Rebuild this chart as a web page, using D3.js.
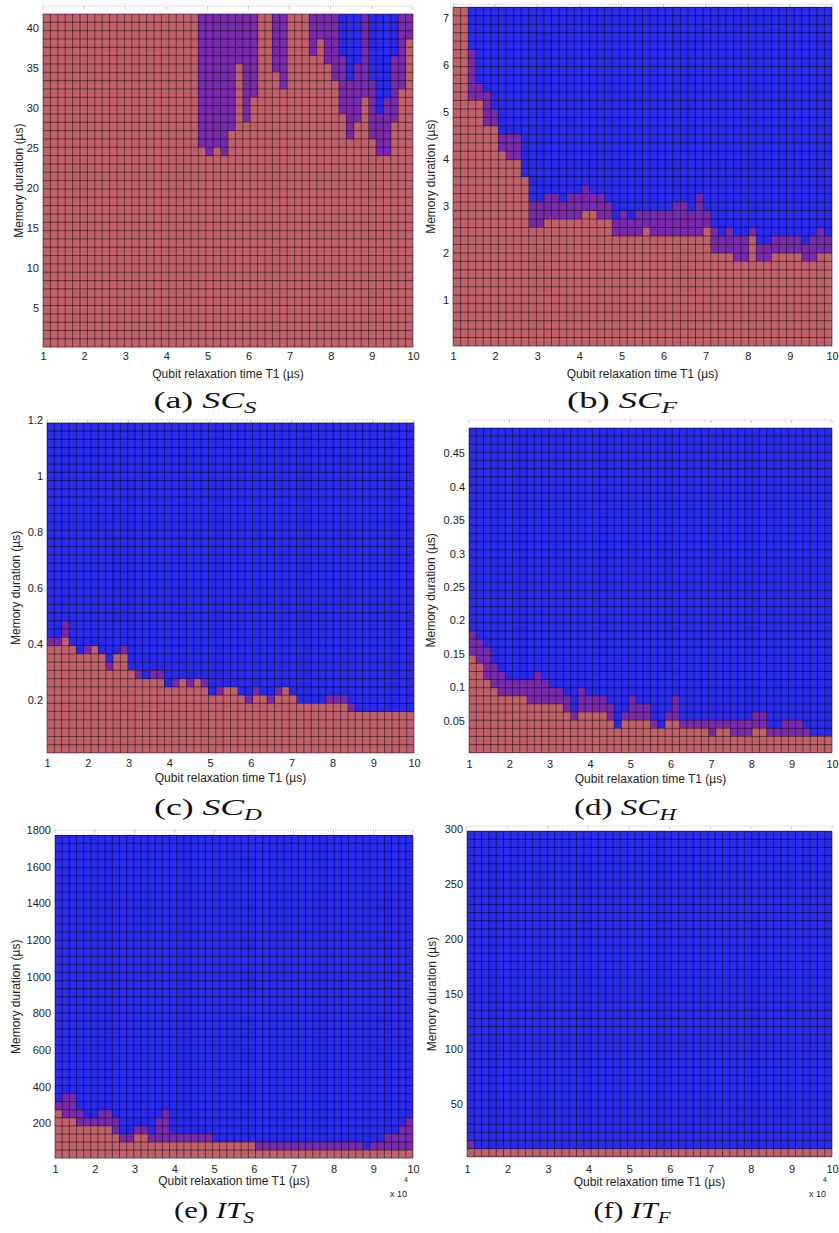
<!DOCTYPE html>
<html>
<head>
<meta charset="utf-8">
<script src="https://cdn.jsdelivr.net/npm/d3@7"></script>
<style>
  body { margin: 0; background: #fff; }
  text { font-family: "Liberation Sans", Arial, sans-serif; fill: #222; }
  text.cap { font-family: "Liberation Serif", "DejaVu Serif", serif; fill: #111; }
</style>
</head>
<body>
<svg id="fig" width="839" height="1233"></svg>
<script>
// grid size of every sweep (T1 columns x memory rows)
const nCols = 50, nRows = 40;
const t1Ticks = [1, 2, 3, 4, 5, 6, 7, 8, 9, 10];

// memory duration (us) below which the cell is red / below which it is purple, per T1 column
const redSCS = [
  42, 42, 42, 42, 42, 42, 42, 42, 42, 42,
  42, 42, 42, 42, 42, 42, 42, 42, 42, 42,
  42, 24.7, 23.7, 24.7, 23.7, 27.6, 35.4, 27.9, 31, 42,
  42, 34.1, 32.3, 42, 42, 42, 36.4, 38.5, 35.4, 33.1,
  28.9, 25.8, 27.9, 31, 26.6, 23.7, 24.5, 27.9, 32.3, 38.5];
const purpleSCS = [
  42, 42, 42, 42, 42, 42, 42, 42, 42, 42,
  42, 42, 42, 42, 42, 42, 42, 42, 42, 42,
  42, 42, 42, 42, 42, 42, 42, 42, 42, 42,
  42, 42, 42, 42, 42, 42, 42, 42, 42, 42,
  36.4, 33.3, 35.4, 42, 33.3, 29.4, 31.4, 37, 42, 42];

const redSCF = [
  7.3, 7.3, 5.3, 5.3, 4.66, 4.66, 4.1, 3.9, 3.9, 3.55,
  2.63, 2.63, 2.8, 2.8, 2.8, 2.8, 2.8, 2.98, 2.98, 2.78,
  2.78, 2.4, 2.4, 2.35, 2.35, 2.6, 2.45, 2.35, 2.35, 2.35,
  2.28, 2.28, 2.4, 2.6, 2.06, 2.06, 2.06, 1.81, 1.81, 2.4,
  1.85, 1.85, 1.92, 1.92, 1.92, 1.92, 1.85, 1.85, 2.06, 2.06];
const purpleSCF = [
  7.3, 7.3, 6.3, 5.57, 5.5, 5.0, 4.47, 4.45, 4.45, 3.55,
  3.13, 3.13, 3.34, 3.34, 3.13, 3.2, 3.34, 3.5, 3.34, 3.2,
  3.13, 2.7, 2.85, 2.7, 2.85, 2.98, 2.98, 2.85, 2.85, 3.0,
  3.13, 2.85, 3.2, 2.85, 2.56, 2.4, 2.56, 2.4, 2.4, 2.56,
  2.2, 2.2, 2.4, 2.4, 2.28, 2.28, 2.2, 2.4, 2.56, 2.4];

const redSCD = [
  0.40, 0.40, 0.432, 0.40, 0.372, 0.372, 0.40, 0.372, 0.313, 0.372,
  0.372, 0.313, 0.283, 0.283, 0.283, 0.283, 0.253, 0.253, 0.283, 0.253,
  0.283, 0.253, 0.224, 0.224, 0.253, 0.253, 0.224, 0.20, 0.224, 0.224,
  0.194, 0.224, 0.253, 0.224, 0.194, 0.194, 0.194, 0.194, 0.194, 0.194,
  0.194, 0.165, 0.165, 0.165, 0.165, 0.165, 0.165, 0.165, 0.165, 0.165];
const purpleSCD = [
  0.432, 0.432, 0.468, 0.40, 0.372, 0.40, 0.40, 0.372, 0.343, 0.372,
  0.40, 0.313, 0.313, 0.283, 0.313, 0.313, 0.253, 0.283, 0.283, 0.283,
  0.283, 0.283, 0.224, 0.253, 0.253, 0.253, 0.224, 0.224, 0.253, 0.224,
  0.224, 0.253, 0.253, 0.224, 0.194, 0.194, 0.194, 0.194, 0.224, 0.224,
  0.224, 0.194, 0.165, 0.165, 0.165, 0.165, 0.165, 0.165, 0.165, 0.165];

const redSCH = [
  0.151, 0.138, 0.113, 0.100, 0.088, 0.088, 0.088, 0.088, 0.075, 0.075,
  0.075, 0.075, 0.071, 0.061, 0.051, 0.061, 0.061, 0.061, 0.061, 0.051,
  0.038, 0.049, 0.049, 0.049, 0.049, 0.038, 0.038, 0.049, 0.049, 0.038,
  0.036, 0.036, 0.036, 0.026, 0.038, 0.038, 0.026, 0.026, 0.026, 0.038,
  0.038, 0.026, 0.026, 0.026, 0.026, 0.026, 0.026, 0.026, 0.026, 0.024];
const purpleSCH = [
  0.188, 0.176, 0.163, 0.138, 0.126, 0.113, 0.11, 0.11, 0.113, 0.126,
  0.11, 0.098, 0.098, 0.086, 0.061, 0.098, 0.086, 0.086, 0.086, 0.073,
  0.038, 0.061, 0.086, 0.073, 0.073, 0.049, 0.038, 0.061, 0.083, 0.049,
  0.049, 0.049, 0.049, 0.049, 0.049, 0.049, 0.049, 0.049, 0.049, 0.061,
  0.061, 0.038, 0.038, 0.049, 0.049, 0.049, 0.038, 0.026, 0.026, 0.024];

const redITS = [
  272, 227, 227, 181, 181, 181, 181, 181, 136, 90,
  90, 136, 136, 90, 90, 90, 90, 90, 90, 90,
  90, 90, 90, 90, 90, 90, 90, 90, 45, 45,
  45, 45, 45, 45, 45, 45, 45, 45, 45, 45,
  45, 45, 45, 45, 45, 45, 45, 45, 45, 45];
const purpleITS = [
  318, 363, 363, 272, 227, 227, 272, 272, 227, 136,
  136, 181, 181, 136, 227, 272, 136, 136, 136, 136,
  136, 136, 90, 90, 90, 90, 90, 90, 90, 90,
  90, 90, 90, 90, 90, 90, 90, 90, 90, 90,
  90, 90, 90, 45, 90, 90, 136, 136, 181, 227];

const redITF = [
  8, 8, 8, 8, 8, 8, 8, 8, 8, 8,
  8, 8, 8, 8, 8, 8, 8, 8, 8, 8,
  8, 8, 8, 8, 8, 8, 8, 8, 8, 8,
  8, 8, 8, 8, 8, 8, 8, 8, 8, 8,
  8, 8, 8, 8, 8, 8, 8, 8, 8, 8];
const purpleITF = [
  17, 8, 8, 8, 8, 8, 8, 8, 8, 8,
  8, 8, 8, 8, 8, 8, 8, 8, 8, 8,
  8, 8, 8, 8, 8, 8, 8, 8, 8, 8,
  8, 8, 8, 8, 8, 8, 8, 8, 8, 8,
  8, 8, 8, 8, 8, 8, 8, 8, 8, 8];

const yTicksSCS = [5, 10, 15, 20, 25, 30, 35, 40];
const yTicksSCF = [1, 2, 3, 4, 5, 6, 7];
const yTicksSCD = [0.2, 0.4, 0.6, 0.8, 1, 1.2];
const yTicksSCH = [0.05, 0.1, 0.15, 0.2, 0.25, 0.3, 0.35, 0.4, 0.45];
const yTicksITS = [200, 400, 600, 800, 1000, 1200, 1400, 1600, 1800];
const yTicksITF = [50, 100, 150, 200, 250, 300];

const colors = { red: '#c0606a', purple: '#7a2aae', blue: '#2a2aee' };

const xTitle = 'Qubit relaxation time T1 (\u00b5s)';
const yTitle = 'Memory duration (\u00b5s)';

// layout of each sub-figure (pixels)
const panels = [
  { letter: 'a', base: 'SC', sub: 'S', red: redSCS, purple: purpleSCS, yTicks: yTicksSCS,
    yMax: 42.75, heat: [0.1, 41.75], left: 43, right: 413, zero: 348, top: 6,
    tickBase: 360, titleBase: 378, yTitleX: 19, capX: 205, capY: 408, capW: 103, sci: false },
  { letter: 'b', base: 'SC', sub: 'F', red: redSCF, purple: purpleSCF, yTicks: yTicksSCF,
    yMax: 7.3, heat: [0.02, 7.23], left: 453, right: 832, zero: 347, top: 4,
    tickBase: 360, titleBase: 378, yTitleX: 431, capX: 622, capY: 408, capW: 110, sci: false },
  { letter: 'c', base: 'SC', sub: 'D', red: redSCD, purple: purpleSCD, yTicks: yTicksSCD,
    yMax: 1.2, heat: [0.011, 1.19], left: 47, right: 414, zero: 756, top: 420,
    tickBase: 767, titleBase: 782, yTitleX: 16, capX: 208, capY: 815, capW: 108, sci: false },
  { letter: 'd', base: 'SC', sub: 'H', red: redSCH, purple: purpleSCH, yTicks: yTicksSCH,
    yMax: 0.5, heat: [0.002, 0.488], left: 469, right: 832, zero: 754, top: 420,
    tickBase: 768, titleBase: 783, yTitleX: 431, capX: 625, capY: 815, capW: 102, sci: false },
  { letter: 'e', base: 'IT', sub: 'S', red: redITS, purple: purpleITS, yTicks: yTicksITS,
    yMax: 1800, heat: [10, 1771], left: 55, right: 413, zero: 1160, top: 830,
    tickBase: 1173, titleBase: 1185, yTitleX: 16, capX: 214, capY: 1218, capW: 80, sci: true },
  { letter: 'f', base: 'IT', sub: 'F', red: redITF, purple: purpleITF, yTicks: yTicksITF,
    yMax: 302.7, heat: [2, 298], left: 467, right: 832, zero: 1159, top: 826,
    tickBase: 1173, titleBase: 1186, yTitleX: 432, capX: 632, capY: 1218, capW: 77, sci: true }
];

const svg = d3.select('#fig');
svg.append('rect').attr('width', 839).attr('height', 1233).attr('fill', '#fff');

panels.forEach(function(p) {
  const x = d3.scaleLinear().domain([1, 10]).range([p.left, p.right]);
  const y = d3.scaleLinear().domain([0, p.yMax]).range([p.zero, p.top]);
  const g = svg.append('g').attr('class', 'panel-' + p.letter);

  const colEdges = d3.range(nCols + 1).map(i => 1 + 9 * i / nCols);
  const rowEdges = d3.range(nRows + 1).map(j => p.heat[0] + (p.heat[1] - p.heat[0]) * j / nRows);

  const cells = [];
  for (let i = 0; i < nCols; i++) {
    for (let j = 0; j < nRows; j++) {
      const mid = (rowEdges[j] + rowEdges[j + 1]) / 2;
      const state = mid < p.red[i] ? 'red' : (mid < p.purple[i] ? 'purple' : 'blue');
      cells.push({ t0: colEdges[i], t1: colEdges[i + 1], m0: rowEdges[j], m1: rowEdges[j + 1], state: state });
    }
  }

  // top border of the axes (dotted, as in the scan)
  g.append('line')
    .attr('x1', p.left).attr('x2', p.right)
    .attr('y1', p.top).attr('y2', p.top)
    .attr('stroke', '#b8b8b8').attr('stroke-dasharray', '1,1.5');
  g.selectAll('line.topTick').data(t1Ticks).join('line')
    .attr('class', 'topTick')
    .attr('x1', d => x(d)).attr('x2', d => x(d))
    .attr('y1', p.top).attr('y2', p.top + 3)
    .attr('stroke', '#c8c8c8');

  g.selectAll('rect.cell').data(cells).join('rect')
    .attr('class', 'cell')
    .attr('x', d => x(d.t0))
    .attr('y', d => y(d.m1))
    .attr('width', d => x(d.t1) - x(d.t0))
    .attr('height', d => y(d.m0) - y(d.m1))
    .attr('fill', d => colors[d.state])
    .attr('shape-rendering', 'crispEdges');

  // cell edges
  const grid = g.append('g').attr('stroke', '#000').attr('stroke-opacity', 0.55).attr('stroke-width', 0.9);
  grid.selectAll('line.v').data(colEdges).join('line')
    .attr('class', 'v')
    .attr('x1', d => x(d)).attr('x2', d => x(d))
    .attr('y1', y(p.heat[1])).attr('y2', y(p.heat[0]));
  grid.selectAll('line.h').data(rowEdges).join('line')
    .attr('class', 'h')
    .attr('y1', d => y(d)).attr('y2', d => y(d))
    .attr('x1', x(1)).attr('x2', x(10));

  // axes
  const ax = g.append('g')
    .attr('transform', 'translate(0,' + (p.tickBase - 8) + ')')
    .call(d3.axisBottom(x).tickValues(t1Ticks).tickSize(0).tickPadding(0).tickFormat(d3.format('d')));
  ax.select('.domain').remove();
  ax.selectAll('text').attr('font-size', 11).attr('fill', '#222').attr('font-family', '"Liberation Sans", Arial, sans-serif');

  const ay = g.append('g')
    .attr('transform', 'translate(' + p.left + ',0)')
    .call(d3.axisLeft(y).tickValues(p.yTicks).tickSize(0).tickPadding(4).tickFormat(d => String(d)));
  ay.select('.domain').remove();
  ay.selectAll('text').attr('font-size', 11).attr('fill', '#222').attr('font-family', '"Liberation Sans", Arial, sans-serif');

  g.append('text')
    .attr('x', (p.left + p.right) / 2).attr('y', p.titleBase)
    .attr('text-anchor', 'middle').attr('font-size', 12)
    .text(xTitle);

  const cy = (y(p.heat[0]) + y(p.heat[1])) / 2;
  g.append('text')
    .attr('transform', 'translate(' + p.yTitleX + ',' + cy + ') rotate(-90)')
    .attr('text-anchor', 'middle').attr('dominant-baseline', 'central')
    .attr('font-size', 12)
    .text(yTitle);

  if (p.sci) {
    g.append('text')
      .attr('x', p.right - 6).attr('y', p.tickBase + 24)
      .attr('text-anchor', 'end').attr('font-size', 9)
      .text('x 10');
    g.append('text')
      .attr('x', p.right - 7).attr('y', p.tickBase + 9)
      .attr('text-anchor', 'middle').attr('font-size', 7)
      .text('4');
  }

  // caption
  const cap = g.append('text').attr('class', 'cap').attr('font-size', 23)
    .attr('text-anchor', 'middle');
  cap.append('tspan').text('(' + p.letter + ') ');
  cap.append('tspan').attr('font-style', 'italic').text(p.base);
  cap.append('tspan').attr('font-style', 'italic').attr('font-size', 16).attr('dy', 5).text(p.sub);
  const w = cap.node().getComputedTextLength();
  cap.attr('transform', 'translate(' + p.capX + ',' + p.capY + ') scale(' + (p.capW / w) + ',1)');
});
</script>
</body>
</html>
